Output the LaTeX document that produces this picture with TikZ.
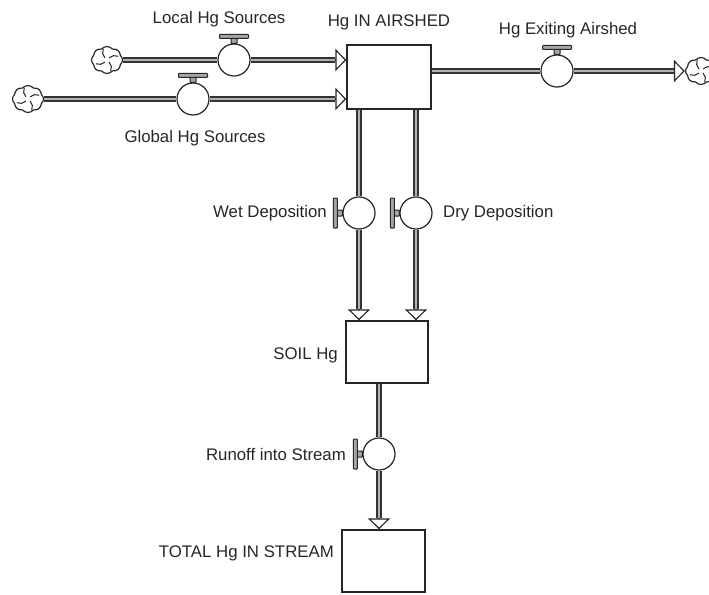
\documentclass[tikz,border=0pt]{standalone}
\usepackage{fontspec}
\setmainfont{Liberation Sans}
\usetikzlibrary{arrows.meta,shapes.symbols,calc}
\begin{document}
\begin{tikzpicture}[x=1pt,y=-1pt,
  lbl/.style={font=\fontsize{16.8}{19}\selectfont, text=black!85, inner sep=0pt},
  stock/.style={draw=black!85, line width=1.2pt, fill=white, inner sep=0pt},
  valve/.style={circle, draw=black!85, line width=1.2pt, fill=white, minimum size=32pt, inner sep=0pt},
  src/.style={cloud, cloud puffs=8, cloud puff arc=100, cloud ignores aspect, draw=black!85, line width=1.2pt, fill=white, minimum width=31pt, minimum height=27pt, inner sep=0pt},
  pipe/.style={line width=2.4pt, draw=black!30, preaction={draw=black!80, line width=6pt}},
  tip/.style={-{Triangle[fill=white,length=11pt,width=22pt,line width=1.2pt]}, line width=1.2pt, draw=black!85},
  handle/.style={draw=black!85, line width=1pt, fill=black!35, rounded corners=0.8pt},
  swirl/.style={line width=1pt, draw=black!85},
  hhandle/.pic={\draw[handle] (-3,0) rectangle (3,-5); \draw[handle] (-14.5,-5) rectangle (14.5,-9);},
  vhandle/.pic={\draw[handle] (0,-3) rectangle (-5,3); \draw[handle] (-5,-15) rectangle (-9,15);},
]
\useasboundingbox (0,0) rectangle (709,594);
\clip (0,0) rectangle (709,594);

% stocks
\node[stock, minimum width=84pt, minimum height=64pt] (air) at (389,77) {};
\node[stock, minimum width=82pt, minimum height=62pt] (soil) at (387,352) {};
\node[stock, minimum width=83pt, minimum height=62pt] (stream) at (383.5,561) {};

% clouds
\node[src] (c1) at (107,60) {};
\node[src] (c2) at (28,99) {};
\node[src] (ce) at (701,71) {};
\foreach \cl in {c1,c2,ce}{
  \foreach \ang in {45,135,225,315}{
    \draw[swirl] ($(\cl)+(\ang:3)$) arc[start angle=\ang-90, end angle=\ang-20, radius=8];
  }
}

% valves
\node[valve] (v1) at (234,60) {};
\node[valve] (v2) at (193,99) {};
\node[valve] (ve) at (557,71) {};
\node[valve] (vw) at (359,213) {};
\node[valve] (vd) at (416,213) {};
\node[valve] (vr) at (379,454) {};
\pic at (v1.north) {hhandle};
\pic at (v2.north) {hhandle};
\pic at (ve.north) {hhandle};
\pic at (vw.west) {vhandle};
\pic at (vd.west) {vhandle};
\pic at (vr.west) {vhandle};

% helper coordinates for arrow tips
\coordinate (t1) at ($(air.west|-v1)+(-11,0)$);
\coordinate (t2) at ($(air.west|-v2)+(-11,0)$);
\coordinate (te) at ($(ce.west)+(-11,0)$);
\coordinate (tw) at ($(vw|-soil.north)+(0,-11)$);
\coordinate (td) at ($(vd|-soil.north)+(0,-11)$);
\coordinate (tr) at ($(vr|-stream.north)+(0,-11)$);

% pipes
\draw[pipe] (c1.east) -- (v1.west);
\draw[pipe] (v1.east) -- (t1);
\draw[tip] (t1) -- (air.west|-v1);
\draw[pipe] (c2.east) -- (v2.west);
\draw[pipe] (v2.east) -- (t2);
\draw[tip] (t2) -- (air.west|-v2);
\draw[pipe] (air.east|-ve) -- (ve.west);
\draw[pipe] (ve.east) -- (te);
\draw[tip] (te) -- (ce.west);
\draw[pipe] (vw|-air.south) -- (vw.north);
\draw[pipe] (vw.south) -- (tw);
\draw[tip] (tw) -- (vw|-soil.north);
\draw[pipe] (vd|-air.south) -- (vd.north);
\draw[pipe] (vd.south) -- (td);
\draw[tip] (td) -- (vd|-soil.north);
\draw[pipe] (vr|-soil.south) -- (vr.north);
\draw[pipe] (vr.south) -- (tr);
\draw[tip] (tr) -- (vr|-stream.north);

% labels
\node[lbl] (lLocal) at (219,19) {Local Hg Sources};
\node[lbl] (lAir) at (389,22) {Hg IN AIRSHED};
\node[lbl] (lExit) at (568,30) {Hg Exiting Airshed};
\node[lbl] (lGlobal) at (195,138) {Global Hg Sources};
\node[lbl, anchor=east] (lWet) at (327,213) {Wet Deposition};
\node[lbl, anchor=west] (lDry) at (443,213) {Dry Deposition};
\node[lbl, anchor=east] (lSoil) at (338,355) {SOIL Hg};
\node[lbl, anchor=east] (lRun) at (346,454) {Runoff into Stream};
\node[lbl, anchor=east] (lStream) at (334,553) {TOTAL Hg IN STREAM};
\end{tikzpicture}
\end{document}
